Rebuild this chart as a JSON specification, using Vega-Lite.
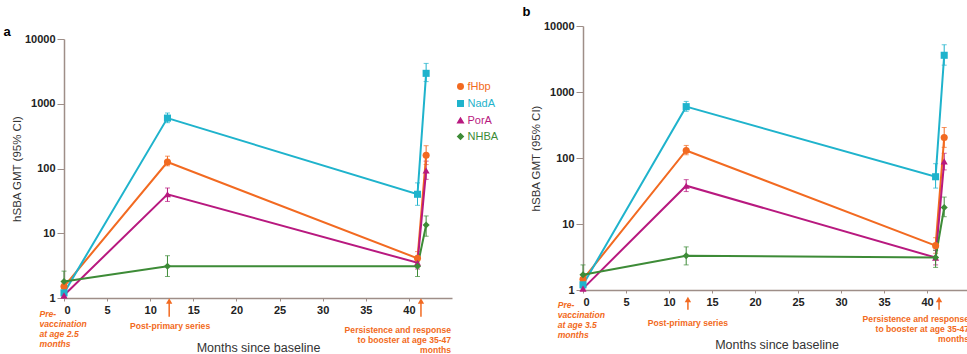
{
  "$schema": "https://vega.github.io/schema/vega-lite/v6.json",
  "padding": {"left": 3, "top": 6, "right": 5, "bottom": 5},
  "datasets": {
    "series": [
      {"panel": "a", "antigen": "fHbp", "month": 0, "gmt": 1.5, "lo": 1.3, "hi": 1.7},
      {"panel": "a", "antigen": "fHbp", "month": 12, "gmt": 126, "lo": 110, "hi": 155},
      {"panel": "a", "antigen": "fHbp", "month": 41, "gmt": 4.1, "lo": 3.3, "hi": 5.2},
      {"panel": "a", "antigen": "fHbp", "month": 42, "gmt": 160, "lo": 115, "hi": 225},
      {"panel": "a", "antigen": "NadA", "month": 0, "gmt": 1.2, "lo": 1.05, "hi": 1.4},
      {"panel": "a", "antigen": "NadA", "month": 12, "gmt": 600, "lo": 510, "hi": 720},
      {"panel": "a", "antigen": "NadA", "month": 41, "gmt": 40, "lo": 27, "hi": 60},
      {"panel": "a", "antigen": "NadA", "month": 42, "gmt": 2950, "lo": 2200, "hi": 4200},
      {"panel": "a", "antigen": "PorA", "month": 0, "gmt": 1.1, "lo": 1.0, "hi": 1.25},
      {"panel": "a", "antigen": "PorA", "month": 12, "gmt": 40, "lo": 31, "hi": 50},
      {"panel": "a", "antigen": "PorA", "month": 41, "gmt": 3.5, "lo": 2.8, "hi": 4.3},
      {"panel": "a", "antigen": "PorA", "month": 42, "gmt": 93, "lo": 68, "hi": 130},
      {"panel": "a", "antigen": "NHBA", "month": 0, "gmt": 1.8, "lo": 1.2, "hi": 2.6},
      {"panel": "a", "antigen": "NHBA", "month": 12, "gmt": 3.1, "lo": 2.15, "hi": 4.5},
      {"panel": "a", "antigen": "NHBA", "month": 41, "gmt": 3.1, "lo": 2.15, "hi": 4.2},
      {"panel": "a", "antigen": "NHBA", "month": 42, "gmt": 13.4, "lo": 9, "hi": 18.5},
      {"panel": "b", "antigen": "fHbp", "month": 0, "gmt": 1.45, "lo": 1.25, "hi": 1.7},
      {"panel": "b", "antigen": "fHbp", "month": 12, "gmt": 130, "lo": 112, "hi": 155},
      {"panel": "b", "antigen": "fHbp", "month": 41, "gmt": 4.7, "lo": 3.6, "hi": 6.2},
      {"panel": "b", "antigen": "fHbp", "month": 42, "gmt": 205, "lo": 145, "hi": 290},
      {"panel": "b", "antigen": "NadA", "month": 0, "gmt": 1.2, "lo": 1.05, "hi": 1.4},
      {"panel": "b", "antigen": "NadA", "month": 12, "gmt": 600, "lo": 510, "hi": 720},
      {"panel": "b", "antigen": "NadA", "month": 41, "gmt": 52, "lo": 35, "hi": 82},
      {"panel": "b", "antigen": "NadA", "month": 42, "gmt": 3600, "lo": 2550, "hi": 5200},
      {"panel": "b", "antigen": "PorA", "month": 0, "gmt": 1.05, "lo": 1.0, "hi": 1.2},
      {"panel": "b", "antigen": "PorA", "month": 12, "gmt": 38, "lo": 31, "hi": 47},
      {"panel": "b", "antigen": "PorA", "month": 41, "gmt": 3.1, "lo": 2.4, "hi": 4.0},
      {"panel": "b", "antigen": "PorA", "month": 42, "gmt": 89, "lo": 66, "hi": 118},
      {"panel": "b", "antigen": "NHBA", "month": 0, "gmt": 1.7, "lo": 1.2, "hi": 2.4},
      {"panel": "b", "antigen": "NHBA", "month": 12, "gmt": 3.3, "lo": 2.4, "hi": 4.5},
      {"panel": "b", "antigen": "NHBA", "month": 41, "gmt": 3.1, "lo": 2.2, "hi": 4.0},
      {"panel": "b", "antigen": "NHBA", "month": 42, "gmt": 17.8, "lo": 12.9, "hi": 25.6}
    ],
    "notes": [
      {"panel": "a", "kind": "pre", "month": -2.84, "y": 0.653, "text": "Pre-\nvaccination\nat age 2.5\nmonths"},
      {"panel": "a", "kind": "post", "month": 12.3, "y": 0.427, "text": "Post-primary series"},
      {"panel": "a", "kind": "pers", "month": 44.9, "y": 0.371, "text": "Persistence and response\nto booster at age 35-47\nmonths"},
      {"panel": "b", "kind": "pre", "month": -2.94, "y": 0.68, "text": "Pre-\nvaccination\nat age 3.5\nmonths"},
      {"panel": "b", "kind": "post", "month": 12.2, "y": 0.364, "text": "Post-primary series"},
      {"panel": "b", "kind": "pers", "month": 44.9, "y": 0.418, "text": "Persistence and response\nto booster at age 35-47\nmonths"}
    ],
    "arrows": [
      {"panel": "a", "month": 12.2, "y": 0.515, "y2": 0.9},
      {"panel": "a", "month": 41.4, "y": 0.515, "y2": 0.9},
      {"panel": "b", "month": 12.2, "y": 0.5, "y2": 0.72},
      {"panel": "b", "month": 41.4, "y": 0.5, "y2": 0.72}
    ]
  },
  "hconcat": [
    {
      "width": 388,
      "height": 272,
      "title": {"text": "a", "anchor": "start", "frame": "bounds", "fontSize": 13, "fontWeight": "bold", "offset": 1, "dx": -8, "dy": 14},
      "layer": [
        {
          "data": {"name": "series"},
          "transform": [{"filter": "datum.panel == 'a'"}],
          "mark": {"type": "errorbar", "ticks": {"size": 5}, "thickness": 1},
          "encoding": {
            "x": {"field": "month", "type": "quantitative", "scale": {"domain": [0, 44]}, "axis": {"values": [0, 5, 10, 15, 20, 25, 30, 35, 40], "title": "Months since baseline", "titlePadding": 26}},
            "y": {"field": "lo", "type": "quantitative", "scale": {"type": "log", "domain": [1, 10000], "range": [272, 13]}, "axis": {"values": [1, 10, 100, 1000, 10000], "format": "d", "title": "hSBA GMT (95% CI)"}},
            "y2": {"field": "hi"},
            "color": {"field": "antigen", "type": "nominal", "scale": {"domain": ["fHbp", "NadA", "PorA", "NHBA"], "range": ["#f26a21", "#1fb3cc", "#b8197f", "#3d8b37"]}, "legend": {"title": null, "orient": "none", "legendX": 391, "legendY": 55, "labelFontSize": 11, "symbolSize": 30, "rowPadding": 4, "labelOffset": 1.5, "encode": {"labels": {"update": {"fill": {"scale": "color", "field": "value"}}}}}}
          }
        },
        {
          "data": {"name": "series"},
          "transform": [{"filter": "datum.panel == 'a'"}],
          "mark": {"type": "line", "strokeWidth": 2},
          "encoding": {
            "x": {"field": "month", "type": "quantitative"},
            "y": {"field": "gmt", "type": "quantitative"},
            "color": {"field": "antigen", "type": "nominal"},
            "order": {"field": "month"}
          }
        },
        {
          "data": {"name": "series"},
          "transform": [{"filter": "datum.panel == 'a'"}],
          "mark": {"type": "point", "filled": true, "size": 50, "opacity": 1},
          "encoding": {
            "x": {"field": "month", "type": "quantitative"},
            "y": {"field": "gmt", "type": "quantitative"},
            "color": {"field": "antigen", "type": "nominal"},
            "shape": {"field": "antigen", "type": "nominal", "scale": {"domain": ["fHbp", "NadA", "PorA", "NHBA"], "range": ["circle", "square", "triangle-up", "diamond"]}, "legend": {"title": null, "orient": "none", "legendX": 391, "legendY": 55, "labelFontSize": 11, "symbolSize": 30, "rowPadding": 4, "labelOffset": 1.5, "encode": {"labels": {"update": {"fill": {"scale": "color", "field": "value"}}}}}}
          }
        },
        {
          "data": {"name": "arrows"},
          "transform": [{"filter": "datum.panel == 'a'"}],
          "mark": {"type": "rule", "color": "#f26a21", "strokeWidth": 1.5},
          "encoding": {
            "x": {"field": "month", "type": "quantitative"},
            "y": {"field": "y", "type": "quantitative"},
            "y2": {"field": "y2"}
          }
        },
        {
          "data": {"name": "arrows"},
          "transform": [{"filter": "datum.panel == 'a'"}],
          "mark": {"type": "point", "shape": "triangle-up", "filled": true, "color": "#f26a21", "size": 40, "opacity": 1},
          "encoding": {
            "x": {"field": "month", "type": "quantitative"},
            "y": {"field": "y2", "type": "quantitative"}
          }
        },
        {
          "data": {"name": "notes"},
          "transform": [{"filter": "datum.panel == 'a' && datum.kind == 'pre'"}],
          "mark": {"type": "text", "align": "left", "baseline": "top", "fontWeight": "bold", "fontStyle": "italic", "fontSize": 8.6, "lineHeight": 10, "lineBreak": "\n", "color": "#f26a21"},
          "encoding": {"x": {"field": "month", "type": "quantitative"}, "y": {"field": "y", "type": "quantitative"}, "text": {"field": "text"}}
        },
        {
          "data": {"name": "notes"},
          "transform": [{"filter": "datum.panel == 'a' && datum.kind == 'post'"}],
          "mark": {"type": "text", "align": "center", "baseline": "top", "fontWeight": "bold", "fontSize": 8.6, "lineHeight": 10, "lineBreak": "\n", "color": "#f26a21"},
          "encoding": {"x": {"field": "month", "type": "quantitative"}, "y": {"field": "y", "type": "quantitative"}, "text": {"field": "text"}}
        },
        {
          "data": {"name": "notes"},
          "transform": [{"filter": "datum.panel == 'a' && datum.kind == 'pers'"}],
          "mark": {"type": "text", "align": "right", "baseline": "top", "fontWeight": "bold", "fontSize": 8.6, "lineHeight": 10, "lineBreak": "\n", "color": "#f26a21"},
          "encoding": {"x": {"field": "month", "type": "quantitative"}, "y": {"field": "y", "type": "quantitative"}, "text": {"field": "text"}}
        }
      ]
    },
    {
      "width": 387,
      "height": 264,
      "title": {"text": "b", "anchor": "start", "frame": "bounds", "fontSize": 13, "fontWeight": "bold", "offset": 1, "dx": -8},
      "layer": [
        {
          "data": {"name": "series"},
          "transform": [{"filter": "datum.panel == 'b'"}],
          "mark": {"type": "errorbar", "ticks": {"size": 5}, "thickness": 1},
          "encoding": {
            "x": {"field": "month", "type": "quantitative", "scale": {"domain": [0, 44]}, "axis": {"values": [0, 5, 10, 15, 20, 25, 30, 35, 40], "title": "Months since baseline", "titlePadding": 31}},
            "y": {"field": "lo", "type": "quantitative", "scale": {"type": "log", "domain": [1, 10000]}, "axis": {"values": [1, 10, 100, 1000, 10000], "format": "d", "title": "hSBA GMT (95% CI)"}},
            "y2": {"field": "hi"},
            "color": {"field": "antigen", "type": "nominal", "legend": null}
          }
        },
        {
          "data": {"name": "series"},
          "transform": [{"filter": "datum.panel == 'b'"}],
          "mark": {"type": "line", "strokeWidth": 2},
          "encoding": {
            "x": {"field": "month", "type": "quantitative"},
            "y": {"field": "gmt", "type": "quantitative"},
            "color": {"field": "antigen", "type": "nominal", "legend": null},
            "order": {"field": "month"}
          }
        },
        {
          "data": {"name": "series"},
          "transform": [{"filter": "datum.panel == 'b'"}],
          "mark": {"type": "point", "filled": true, "size": 50, "opacity": 1},
          "encoding": {
            "x": {"field": "month", "type": "quantitative"},
            "y": {"field": "gmt", "type": "quantitative"},
            "color": {"field": "antigen", "type": "nominal", "legend": null},
            "shape": {"field": "antigen", "type": "nominal", "legend": null}
          }
        },
        {
          "data": {"name": "arrows"},
          "transform": [{"filter": "datum.panel == 'b'"}],
          "mark": {"type": "rule", "color": "#f26a21", "strokeWidth": 1.5},
          "encoding": {
            "x": {"field": "month", "type": "quantitative"},
            "y": {"field": "y", "type": "quantitative"},
            "y2": {"field": "y2"}
          }
        },
        {
          "data": {"name": "arrows"},
          "transform": [{"filter": "datum.panel == 'b'"}],
          "mark": {"type": "point", "shape": "triangle-up", "filled": true, "color": "#f26a21", "size": 40, "opacity": 1},
          "encoding": {
            "x": {"field": "month", "type": "quantitative"},
            "y": {"field": "y2", "type": "quantitative"}
          }
        },
        {
          "data": {"name": "notes"},
          "transform": [{"filter": "datum.panel == 'b' && datum.kind == 'pre'"}],
          "mark": {"type": "text", "align": "left", "baseline": "top", "fontWeight": "bold", "fontStyle": "italic", "fontSize": 8.6, "lineHeight": 10, "lineBreak": "\n", "color": "#f26a21"},
          "encoding": {"x": {"field": "month", "type": "quantitative"}, "y": {"field": "y", "type": "quantitative"}, "text": {"field": "text"}}
        },
        {
          "data": {"name": "notes"},
          "transform": [{"filter": "datum.panel == 'b' && datum.kind == 'post'"}],
          "mark": {"type": "text", "align": "center", "baseline": "top", "fontWeight": "bold", "fontSize": 8.6, "lineHeight": 10, "lineBreak": "\n", "color": "#f26a21"},
          "encoding": {"x": {"field": "month", "type": "quantitative"}, "y": {"field": "y", "type": "quantitative"}, "text": {"field": "text"}}
        },
        {
          "data": {"name": "notes"},
          "transform": [{"filter": "datum.panel == 'b' && datum.kind == 'pers'"}],
          "mark": {"type": "text", "align": "right", "baseline": "top", "fontWeight": "bold", "fontSize": 8.6, "lineHeight": 10, "lineBreak": "\n", "color": "#f26a21"},
          "encoding": {"x": {"field": "month", "type": "quantitative"}, "y": {"field": "y", "type": "quantitative"}, "text": {"field": "text"}}
        }
      ]
    }
  ],
  "spacing": 23,
  "align": "none",
  "resolve": {"legend": {"color": "independent", "shape": "independent"}},
  "config": {
    "font": "Liberation Sans",
    "view": {"stroke": null},
    "axis": {
      "grid": false,
      "domainColor": "#9e8e88",
      "domainWidth": 1.5,
      "tickColor": "#9e8e88",
      "labelFontWeight": "bold",
      "labelFontSize": 11,
      "labelColor": "#222222",
      "titleFontWeight": "normal",
      "titleColor": "#333333"
    },
    "axisX": {"tickSize": 3, "labelPadding": 3, "titleFontSize": 12.5},
    "axisY": {"tickSize": 7, "labelPadding": 2, "titleFontSize": 11.5, "titlePadding": 2},
    "legend": {"labelFont": "Liberation Sans"}
  }
}
